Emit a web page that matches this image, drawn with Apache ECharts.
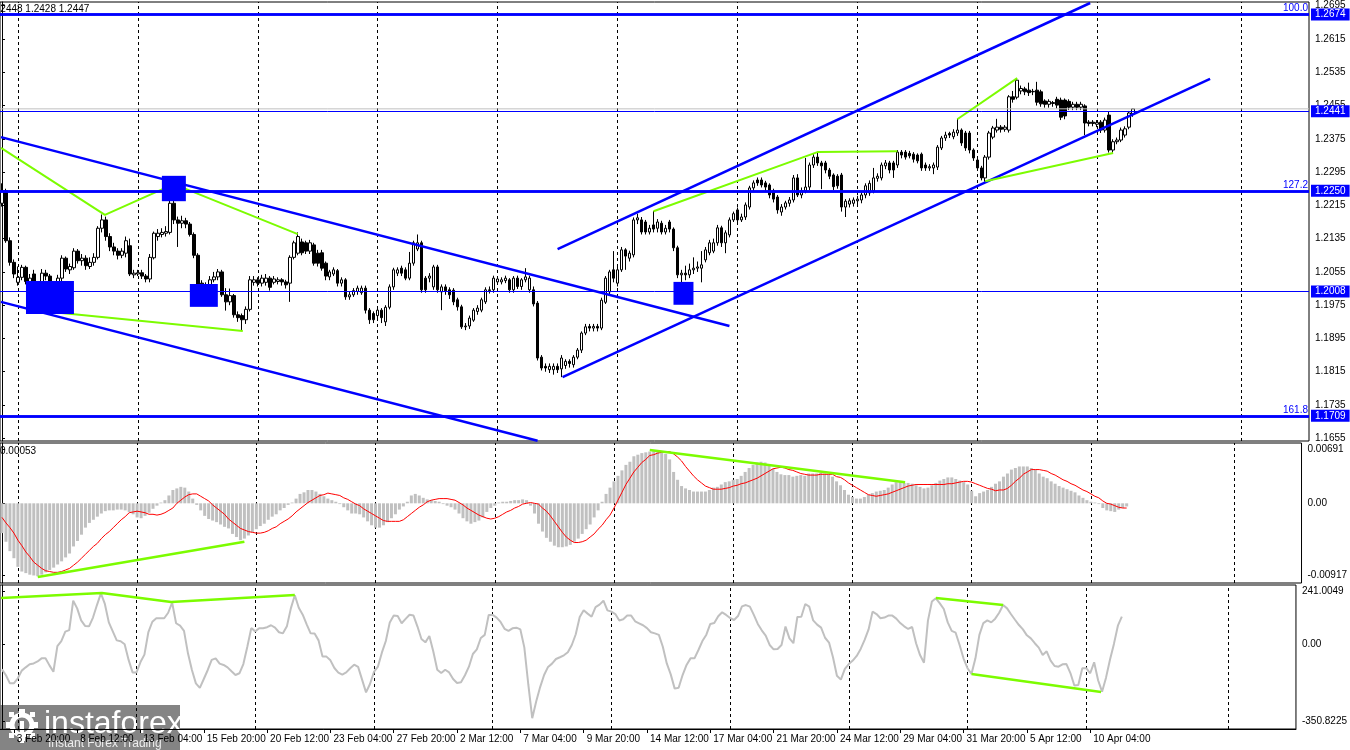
<!DOCTYPE html>
<html><head><meta charset="utf-8">
<script src="https://cdn.jsdelivr.net/npm/echarts@6/dist/echarts.min.js"></script>
<style>html,body{margin:0;padding:0;background:#fff}#c{width:1350px;height:750px}</style>
</head><body><div id="c"></div>
<script>
// ---- DATA ----
// candles: [open, close, low, high], H4 bars, index 0 = 3 Feb 08:00
const ohlc = [
[1.2220,1.2250,1.2212,1.2268],[1.2250,1.2130,1.2125,1.2255],[1.2130,1.2078,1.2070,1.2138],[1.2078,1.2050,1.2040,1.2085],[1.2030,1.2042,1.2022,1.2068],
[1.2042,1.2066,1.2035,1.2072],[1.2066,1.2032,1.2025,1.2070],[1.2032,1.2040,1.2020,1.2050],[1.2050,1.2008,1.2000,1.2060],[1.2008,1.2012,1.2000,1.2030],
[1.2015,1.2052,1.2010,1.2062],[1.2052,1.2045,1.2035,1.2060],[1.2045,1.2008,1.2000,1.2050],[1.2008,1.1976,1.1960,1.2015],[1.1976,1.2040,1.1962,1.2048],
[1.2040,1.2088,1.2030,1.2095],[1.2088,1.2062,1.2055,1.2092],[1.2060,1.2068,1.2050,1.2075],[1.2065,1.2105,1.2060,1.2112],[1.2105,1.2082,1.2075,1.2110],
[1.2082,1.2088,1.2070,1.2098],[1.2088,1.2070,1.2060,1.2095],[1.2068,1.2078,1.2062,1.2090],[1.2078,1.2090,1.2070,1.2100],[1.2090,1.2160,1.2085,1.2165],
[1.2160,1.2180,1.2150,1.2193],[1.2180,1.2140,1.2130,1.2188],[1.2140,1.2115,1.2105,1.2148],[1.2115,1.2105,1.2095,1.2125],[1.2105,1.2095,1.2085,1.2112],
[1.2095,1.2105,1.2088,1.2112],[1.2100,1.2130,1.2090,1.2140],[1.2118,1.2050,1.2045,1.2135],[1.2048,1.2052,1.2040,1.2060],[1.2050,1.2053,1.2045,1.2060],
[1.2053,1.2045,1.2038,1.2060],[1.2045,1.2038,1.2030,1.2050],[1.2038,1.2090,1.2030,1.2098],[1.2089,1.2148,1.2085,1.2152],[1.2140,1.2148,1.2130,1.2158],
[1.2145,1.2150,1.2138,1.2160],[1.2148,1.2152,1.2140,1.2165],[1.2150,1.2220,1.2145,1.2262],[1.2220,1.2180,1.2170,1.2230],[1.2180,1.2172,1.2115,1.2188],
[1.2172,1.2178,1.2160,1.2190],[1.2178,1.2170,1.2160,1.2185],[1.2170,1.2145,1.2140,1.2175],[1.2145,1.2095,1.2088,1.2150],[1.2095,1.2012,1.2005,1.2100],
[1.2028,1.2000,1.1990,1.2035],[1.2000,1.2020,1.1995,1.2030],[1.2020,1.2036,1.2012,1.2045],[1.2036,1.2043,1.2030,1.2055],[1.2043,1.2055,1.2035,1.2062],
[1.2055,1.2000,1.1995,1.2060],[1.2000,1.1983,1.1962,1.2016],[1.1983,1.1998,1.1975,1.2015],[1.1998,1.1952,1.1945,1.2002],[1.1952,1.1945,1.1935,1.1960],
[1.1950,1.1940,1.1913,1.1955],[1.1940,1.1965,1.1930,1.1972],[1.1965,1.2036,1.1960,1.2045],[1.2030,1.2036,1.2022,1.2045],[1.2036,1.2028,1.2020,1.2042],
[1.2028,1.2040,1.2020,1.2048],[1.2030,1.2040,1.2022,1.2050],[1.2040,1.2018,1.2010,1.2045],[1.2030,1.2038,1.2025,1.2045],[1.2032,1.2036,1.2025,1.2042],
[1.2036,1.2031,1.2022,1.2040],[1.2031,1.2024,1.2015,1.2036],[1.2028,1.2090,1.1983,1.2095],[1.2090,1.2125,1.2085,1.2130],[1.2100,1.2140,1.2095,1.2150],
[1.2127,1.2101,1.2095,1.2135],[1.2125,1.2105,1.2098,1.2130],[1.2105,1.2125,1.2098,1.2132],[1.2120,1.2076,1.2070,1.2125],[1.2100,1.2076,1.2068,1.2108],
[1.2101,1.2064,1.2058,1.2108],[1.2076,1.2045,1.2035,1.2080],[1.2043,1.2055,1.2035,1.2060],[1.2050,1.2060,1.2045,1.2066],[1.2058,1.2028,1.2020,1.2062],
[1.2028,1.2036,1.2020,1.2042],[1.2036,1.1995,1.1988,1.2040],[1.1995,1.2000,1.1988,1.2008],[1.2000,1.2010,1.1995,1.2016],[1.2008,1.2016,1.2000,1.2022],
[1.2005,1.2016,1.2000,1.2022],[1.2016,1.1963,1.1955,1.2022],[1.1963,1.1940,1.1930,1.1968],[1.1955,1.1940,1.1932,1.1960],[1.1950,1.1963,1.1940,1.1968],
[1.1963,1.1945,1.1932,1.1968],[1.1935,1.1970,1.1925,1.1975],[1.1970,1.2019,1.1965,1.2025],[1.2019,1.2060,1.2012,1.2065],[1.2052,1.2060,1.2045,1.2066],
[1.2064,1.2052,1.2045,1.2070],[1.2060,1.2040,1.2035,1.2066],[1.2040,1.2076,1.2035,1.2103],[1.2076,1.2125,1.2070,1.2130],[1.2110,1.2125,1.2105,1.2145],
[1.2125,1.2012,1.2005,1.2130],[1.2040,1.2012,1.2005,1.2045],[1.2040,1.2045,1.2030,1.2052],[1.2019,1.2067,1.2012,1.2072],[1.2067,1.2012,1.2005,1.2072],
[1.2007,1.2019,1.1963,1.2025],[1.2019,1.2010,1.2000,1.2025],[1.2012,1.2000,1.1990,1.2018],[1.2011,1.1983,1.1975,1.2016],[1.1988,1.1971,1.1962,1.1993],
[1.1971,1.1923,1.1918,1.1976],[1.1923,1.1925,1.1915,1.1932],[1.1925,1.1944,1.1918,1.1950],[1.1939,1.1963,1.1935,1.1968],[1.1960,1.1968,1.1952,1.1975],
[1.1963,1.1988,1.1958,1.1993],[1.1983,1.2012,1.1978,1.2018],[1.2010,1.2012,1.2003,1.2020],[1.2012,1.2040,1.2005,1.2046],[1.2031,1.2038,1.2025,1.2045],
[1.2031,1.2036,1.2025,1.2042],[1.2034,1.2040,1.2028,1.2046],[1.2036,1.2012,1.2005,1.2040],[1.2012,1.2040,1.2005,1.2045],[1.2040,1.2020,1.2014,1.2046],
[1.2020,1.2036,1.2012,1.2040],[1.2036,1.2043,1.2030,1.2064],[1.2012,1.2040,1.2005,1.2046],[1.2012,1.1978,1.1972,1.2020],[1.1980,1.1848,1.1842,1.1985],
[1.1850,1.1824,1.1818,1.1855],[1.1828,1.1824,1.1815,1.1835],[1.1820,1.1828,1.1812,1.1835],[1.1820,1.1828,1.1808,1.1835],[1.1828,1.1820,1.1812,1.1835],
[1.1822,1.1848,1.1802,1.1855],[1.1830,1.1840,1.1822,1.1845],[1.1840,1.1835,1.1825,1.1845],[1.1832,1.1850,1.1825,1.1855],[1.1850,1.1867,1.1845,1.1872],
[1.1867,1.1908,1.1860,1.1912],[1.1908,1.1923,1.1903,1.1930],[1.1924,1.1920,1.1912,1.1930],[1.1920,1.1924,1.1912,1.1930],[1.1924,1.1920,1.1912,1.1930],
[1.1920,1.1987,1.1915,1.1993],[1.1982,1.2040,1.1978,1.2045],[1.2007,1.2055,1.2000,1.2060],[1.2060,1.2040,1.2030,1.2105],[1.2028,1.2060,1.2020,1.2068],
[1.2060,1.2108,1.2055,1.2115],[1.2108,1.2093,1.2060,1.2112],[1.2088,1.2100,1.2080,1.2106],[1.2096,1.2180,1.2090,1.2186],[1.2180,1.2185,1.2170,1.2195],
[1.2180,1.2151,1.2145,1.2187],[1.2175,1.2151,1.2145,1.2180],[1.2151,1.2160,1.2145,1.2168],[1.2168,1.2158,1.2150,1.2201],[1.2160,1.2175,1.2150,1.2182],
[1.2172,1.2151,1.2145,1.2178],[1.2151,1.2160,1.2145,1.2168],[1.2175,1.2158,1.2150,1.2180],[1.2158,1.2113,1.2105,1.2162],[1.2113,1.2048,1.2040,1.2118],
[1.2048,1.2052,1.2015,1.2060],[1.2052,1.2048,1.2035,1.2070],[1.2048,1.2060,1.2040,1.2075],[1.2060,1.2064,1.2050,1.2090],[1.2064,1.2067,1.2055,1.2080],
[1.2064,1.2072,1.2030,1.2105],[1.2084,1.2108,1.2078,1.2115],[1.2101,1.2125,1.2095,1.2132],[1.2105,1.2125,1.2100,1.2135],[1.2125,1.2161,1.2118,1.2168],
[1.2161,1.2125,1.2115,1.2166],[1.2125,1.2149,1.2100,1.2155],[1.2144,1.2180,1.2138,1.2186],[1.2180,1.2195,1.2175,1.2200],[1.2204,1.2180,1.2172,1.2210],
[1.2180,1.2187,1.2175,1.2195],[1.2187,1.2216,1.2180,1.2222],[1.2211,1.2257,1.2205,1.2262],[1.2257,1.2269,1.2250,1.2275],[1.2276,1.2269,1.2262,1.2282],
[1.2276,1.2264,1.2258,1.2282],[1.2269,1.2259,1.2250,1.2274],[1.2264,1.2240,1.2232,1.2268],[1.2250,1.2230,1.2222,1.2255],[1.2235,1.2204,1.2195,1.2240],
[1.2199,1.2211,1.2190,1.2218],[1.2211,1.2221,1.2205,1.2226],[1.2220,1.2228,1.2212,1.2235],[1.2228,1.2281,1.2222,1.2288],[1.2281,1.2240,1.2235,1.2290],
[1.2240,1.2250,1.2232,1.2258],[1.2250,1.2259,1.2244,1.2329],[1.2259,1.2312,1.2252,1.2318],[1.2312,1.2331,1.2305,1.2338],[1.2331,1.2317,1.2310,1.2343],
[1.2317,1.2310,1.2254,1.2322],[1.2317,1.2300,1.2292,1.2322],[1.2300,1.2285,1.2278,1.2305],[1.2288,1.2260,1.2252,1.2292],[1.2285,1.2262,1.2255,1.2290],
[1.2288,1.2211,1.2200,1.2293],[1.2211,1.2225,1.2187,1.2230],[1.2218,1.2226,1.2210,1.2232],[1.2220,1.2228,1.2212,1.2234],[1.2226,1.2230,1.2218,1.2238],
[1.2228,1.2240,1.2220,1.2246],[1.2240,1.2262,1.2232,1.2268],[1.2245,1.2268,1.2238,1.2275],[1.2250,1.2281,1.2244,1.2305],[1.2280,1.2285,1.2272,1.2292],
[1.2281,1.2312,1.2275,1.2318],[1.2310,1.2317,1.2302,1.2324],[1.2317,1.2300,1.2292,1.2322],[1.2317,1.2300,1.2281,1.2322],[1.2312,1.2343,1.2305,1.2348],
[1.2343,1.2336,1.2328,1.2348],[1.2343,1.2331,1.2325,1.2348],[1.2340,1.2334,1.2328,1.2346],[1.2338,1.2326,1.2318,1.2343],[1.2336,1.2322,1.2316,1.2340],
[1.2338,1.2305,1.2298,1.2342],[1.2312,1.2305,1.2298,1.2318],[1.2305,1.2308,1.2298,1.2314],[1.2305,1.2312,1.2290,1.2318],[1.2307,1.2355,1.2300,1.2360],
[1.2353,1.2377,1.2348,1.2382],[1.2377,1.2384,1.2370,1.2392],[1.2388,1.2384,1.2377,1.2392],[1.2380,1.2391,1.2374,1.2398],[1.2389,1.2396,1.2382,1.2423],
[1.2396,1.2365,1.2358,1.2400],[1.2389,1.2353,1.2346,1.2394],[1.2389,1.2348,1.2340,1.2394],[1.2348,1.2329,1.2322,1.2352],[1.2324,1.2305,1.2298,1.2328],
[1.2305,1.2281,1.2275,1.2310],[1.2281,1.2331,1.2272,1.2336],[1.2331,1.2389,1.2325,1.2394],[1.2379,1.2401,1.2374,1.2406],[1.2396,1.2403,1.2390,1.2423],
[1.2403,1.2398,1.2390,1.2408],[1.2398,1.2403,1.2392,1.2408],[1.2396,1.2476,1.2390,1.2480],[1.2476,1.2470,1.2462,1.2490],[1.2475,1.2516,1.2470,1.2521],
[1.2490,1.2496,1.2482,1.2503],[1.2495,1.2488,1.2480,1.2500],[1.2492,1.2486,1.2478,1.2510],[1.2489,1.2488,1.2480,1.2495],[1.2492,1.2463,1.2455,1.2512],
[1.2488,1.2459,1.2452,1.2493],[1.2466,1.2458,1.2450,1.2470],[1.2458,1.2465,1.2450,1.2470],[1.2462,1.2460,1.2452,1.2466],[1.2470,1.2456,1.2448,1.2476],
[1.2468,1.2427,1.2420,1.2474],[1.2468,1.2430,1.2422,1.2472],[1.2465,1.2451,1.2444,1.2470],[1.2451,1.2458,1.2444,1.2464],[1.2458,1.2451,1.2444,1.2464],
[1.2451,1.2458,1.2444,1.2464],[1.2454,1.2413,1.2384,1.2458],[1.2415,1.2412,1.2405,1.2420],[1.2415,1.2412,1.2405,1.2420],[1.2410,1.2414,1.2403,1.2420],
[1.2415,1.2396,1.2389,1.2420],[1.2396,1.2420,1.2390,1.2426],[1.2432,1.2348,1.2342,1.2440],[1.2348,1.2368,1.2341,1.2374],[1.2368,1.2372,1.2362,1.2378],
[1.2372,1.2396,1.2367,1.2402],[1.2384,1.2399,1.2378,1.2405],[1.2403,1.2437,1.2398,1.2442],[1.2435,1.2447,1.2428,1.2448]
];
const macdHist = [
-0.0038,-0.0049,-0.0061,-0.0070,-0.0081,-0.0087,-0.0089,-0.0091,-0.0092,-0.0093,
-0.0091,-0.0088,-0.0085,-0.0082,-0.0078,-0.0074,-0.0069,-0.0064,-0.0055,-0.0048,
-0.0040,-0.0031,-0.0025,-0.0021,-0.0017,-0.0013,-0.0010,-0.0009,-0.0009,-0.0008,
-0.0008,-0.0009,-0.0011,-0.0014,-0.0018,-0.0019,-0.0016,-0.0012,-0.0007,-0.0003,
0.0001,0.0004,0.0010,0.0017,0.0019,0.0021,0.0020,0.0015,0.0006,-0.0002,
-0.0009,-0.0016,-0.0020,-0.0022,-0.0024,-0.0027,-0.0030,-0.0032,-0.0039,-0.0043,
-0.0047,-0.0045,-0.0041,-0.0037,-0.0033,-0.0029,-0.0026,-0.0021,-0.0017,-0.0014,
-0.0009,-0.0006,-0.0002,0.0001,0.0006,0.0012,0.0014,0.0017,0.0017,0.0015,
0.0012,0.0009,0.0006,0.0004,0.0002,-0.0001,-0.0005,-0.0009,-0.0013,-0.0013,
-0.0014,-0.0018,-0.0023,-0.0028,-0.0031,-0.0031,-0.0028,-0.0024,-0.0019,-0.0014,
-0.0008,-0.0004,0.0002,0.0010,0.0012,0.0010,0.0007,0.0005,0.0004,0.0003,
0.0002,-0.0001,-0.0003,-0.0005,-0.0008,-0.0013,-0.0019,-0.0023,-0.0026,-0.0024,
-0.0022,-0.0018,-0.0011,-0.0006,-0.0003,0.0001,0.0002,0.0002,0.0003,0.0004,
0.0004,0.0005,0.0004,-0.0003,-0.0013,-0.0026,-0.0036,-0.0044,-0.0049,-0.0054,
-0.0056,-0.0056,-0.0055,-0.0053,-0.0049,-0.0045,-0.0039,-0.0033,-0.0027,-0.0018,
-0.0009,0.0002,0.0012,0.0020,0.0028,0.0035,0.0042,0.0049,0.0053,0.0060,
0.0062,0.0064,0.0065,0.0066,0.0067,0.0066,0.0065,0.0063,0.0056,0.0040,
0.0030,0.0022,0.0019,0.0017,0.0015,0.0015,0.0015,0.0015,0.0017,0.0020,
0.0021,0.0024,0.0027,0.0028,0.0030,0.0031,0.0035,0.0040,0.0045,0.0049,
0.0052,0.0053,0.0052,0.0048,0.0044,0.0040,0.0037,0.0036,0.0036,0.0034,
0.0035,0.0036,0.0035,0.0038,0.0038,0.0038,0.0039,0.0038,0.0037,0.0034,
0.0028,0.0023,0.0017,0.0011,0.0008,0.0006,0.0006,0.0008,0.0011,0.0013,
0.0015,0.0016,0.0017,0.0020,0.0024,0.0027,0.0027,0.0026,0.0026,0.0025,
0.0023,0.0021,0.0019,0.0020,0.0023,0.0026,0.0029,0.0031,0.0033,0.0033,
0.0031,0.0029,0.0027,0.0024,0.0016,0.0009,0.0013,0.0015,0.0017,0.0021,
0.0025,0.0028,0.0034,0.0038,0.0043,0.0045,0.0047,0.0047,0.0047,0.0045,
0.0043,0.0038,0.0034,0.0032,0.0028,0.0025,0.0022,0.0020,0.0018,0.0016,
0.0014,0.0010,0.0007,0.0004,0.0002,0.0001,-0.0001,-0.0006,-0.0009,-0.0010,
-0.0011,-0.0008,-0.0006,-0.0004
];
const macdSignal = [
-0.0018,-0.0025,-0.0031,-0.0038,-0.0047,-0.0054,-0.0062,-0.0068,-0.0075,-0.0079,
-0.0083,-0.0086,-0.0087,-0.0088,-0.0088,-0.0087,-0.0085,-0.0083,-0.0079,-0.0075,
-0.0070,-0.0065,-0.0060,-0.0055,-0.0051,-0.0045,-0.0040,-0.0036,-0.0031,-0.0026,
-0.0021,-0.0017,-0.0012,-0.0011,-0.0010,-0.0011,-0.0012,-0.0014,-0.0014,-0.0015,
-0.0014,-0.0012,-0.0009,-0.0006,0.0000,0.0004,0.0008,0.0011,0.0012,0.0012,
0.0009,0.0006,0.0003,-0.0002,-0.0006,-0.0010,-0.0014,-0.0020,-0.0024,-0.0028,
-0.0032,-0.0034,-0.0036,-0.0037,-0.0038,-0.0038,-0.0037,-0.0035,-0.0032,-0.0030,
-0.0026,-0.0023,-0.0020,-0.0016,-0.0011,-0.0007,-0.0003,0.0001,0.0004,0.0007,
0.0010,0.0011,0.0013,0.0012,0.0011,0.0010,0.0007,0.0005,0.0002,-0.0001,
-0.0003,-0.0007,-0.0010,-0.0013,-0.0016,-0.0019,-0.0022,-0.0023,-0.0023,-0.0023,
-0.0023,-0.0021,-0.0017,-0.0013,-0.0009,-0.0005,-0.0002,0.0002,0.0004,0.0005,
0.0006,0.0006,0.0006,0.0005,0.0004,0.0001,-0.0002,-0.0006,-0.0009,-0.0012,
-0.0015,-0.0017,-0.0019,-0.0020,-0.0019,-0.0017,-0.0014,-0.0011,-0.0009,-0.0006,
-0.0004,-0.0001,0.0000,0.0001,0.0000,-0.0001,-0.0006,-0.0010,-0.0016,-0.0023,
-0.0030,-0.0037,-0.0043,-0.0047,-0.0050,-0.0050,-0.0049,-0.0047,-0.0043,-0.0039,
-0.0033,-0.0028,-0.0021,-0.0015,-0.0006,0.0004,0.0014,0.0024,0.0032,0.0040,
0.0046,0.0052,0.0056,0.0061,0.0062,0.0064,0.0065,0.0066,0.0066,0.0063,
0.0059,0.0054,0.0047,0.0041,0.0035,0.0030,0.0026,0.0022,0.0020,0.0018,
0.0018,0.0018,0.0019,0.0020,0.0022,0.0023,0.0025,0.0026,0.0028,0.0030,
0.0032,0.0035,0.0038,0.0041,0.0044,0.0045,0.0046,0.0045,0.0043,0.0042,
0.0040,0.0038,0.0037,0.0036,0.0036,0.0036,0.0037,0.0037,0.0037,0.0037,
0.0034,0.0033,0.0030,0.0026,0.0023,0.0020,0.0017,0.0014,0.0011,0.0010,
0.0009,0.0010,0.0011,0.0012,0.0014,0.0016,0.0018,0.0020,0.0022,0.0023,
0.0024,0.0024,0.0024,0.0024,0.0024,0.0024,0.0024,0.0024,0.0025,0.0025,
0.0026,0.0027,0.0028,0.0028,0.0027,0.0025,0.0023,0.0021,0.0019,0.0018,
0.0016,0.0017,0.0017,0.0019,0.0023,0.0028,0.0032,0.0037,0.0040,0.0043,
0.0043,0.0043,0.0042,0.0041,0.0038,0.0036,0.0033,0.0030,0.0028,0.0025,
0.0023,0.0020,0.0017,0.0015,0.0012,0.0009,0.0007,0.0003,0.0000,-0.0001,
-0.0003,-0.0005,-0.0006,-0.0006
];
const cci = [
-114,-141,-178,-178,-155,-120,-105,-91,-87,-78,
-64,-64,-96,-125,-8,15,58,65,199,164,
109,84,82,122,179,232,184,100,59,18,
14,0,-71,-128,-128,-81,-47,56,103,119,
119,119,144,190,96,85,61,-41,-117,-178,
-199,-158,-117,-71,-64,-88,-94,-105,-123,-140,
-132,-90,-11,74,59,73,73,78,87,76,
55,50,82,164,224,167,135,91,50,49,
18,-56,-56,-73,-108,-129,-138,-128,-109,-93,
-103,-161,-219,-181,-126,-102,-38,15,100,131,
129,96,116,135,131,81,24,9,38,-33,
-116,-131,-116,-128,-158,-176,-173,-141,-102,-44,
-23,29,43,134,134,122,102,71,61,73,
76,68,-14,-182,-337,-261,-195,-140,-103,-88,
-67,-59,-50,-36,-3,46,125,155,140,126,
170,181,199,155,149,138,109,114,131,131,
105,96,87,74,55,50,43,-11,-87,-137,
-202,-198,-140,-94,-64,-64,-26,15,44,93,
97,128,146,134,120,111,129,173,179,172,
134,93,64,40,-3,-23,-21,-3,81,27,
5,125,126,184,172,109,90,76,30,8,
-59,-143,-161,-112,-90,-74,-53,-21,20,68,
149,138,119,122,131,131,117,97,82,70,
79,5,-49,-84,108,195,210,187,161,100,
61,53,-3,-65,-109,-135,-64,43,97,109,
100,117,144,179,164,137,112,88,68,41,
27,5,-15,-49,-32,-74,-99,-102,-91,-90,
-131,-188,-185,-109,-109,-132,-82,-164,-216,-152,
-70,2,85,126
];
// time axis tick labels (bar index -> text)
const tickIdx = [3,19,35,51,67,83,99,115,131,147,163,179,195,211,227,243,259,275];
const tickLabels = ['3 Feb 20:00','8 Feb 12:00','13 Feb 04:00','15 Feb 20:00','20 Feb 12:00','23 Feb 04:00','27 Feb 20:00','2 Mar 12:00','7 Mar 04:00','9 Mar 20:00','14 Mar 12:00','17 Mar 04:00','21 Mar 20:00','24 Mar 12:00','29 Mar 04:00','31 Mar 20:00','5 Apr 12:00','10 Apr 04:00'];
const weekGridIdx = [4,34,64,94,124,154,184,214,244,274,310];
const priceTicks = [1.2695,1.2615,1.2535,1.2455,1.2375,1.2295,1.2215,1.2135,1.2055,1.1975,1.1895,1.1815,1.1735,1.1655];
const macdTicks = [0.00691,0,-0.00917];
const macdTickLabels = ['0.00691','0.00','-0.00917'];
const cciTicks = [241.0049,0,-350.8225];
const cciTickLabels = ['241.0049','0.00','-350.8225'];
// horizontal levels
const majorLevels = [1.2674,1.2250,1.1709];
const minorLevels = [1.2441,1.2008];
const fibLevels = [[1.2674,'100.0'],[1.2250,'127.2'],[1.1709,'161.8']];
const bidPrice = 1.2447;
// trend lines [barIndex, price]
const descUpper = [[-0.25,1.2379],[182,1.1925]];
const descLower = [[-0.25,1.1983],[134,1.1649]];
const ascLower = [[140.25,1.1802],[302.25,1.2519]];
const ascUpper = [[139,1.2110],[272.25,1.27015]];
const greenPrice = [
  [[-0.25,1.2353],[25.75,1.2192],[43,1.2266],[74,1.2146]],
  [[13,1.1958],[60.25,1.1913]],
  [[163,1.2201],[204,1.2343],[224,1.2345]],
  [[239,1.2422],[254,1.2521]],
  [[246,1.2273],[278,1.2341]]
];
const greenMacd = [
  [[9,-0.0094],[61,-0.0049]],
  [[163,0.0068],[227.25,0.0027]]
];
const greenCci = [
  [[-0.25,211],[25.25,234],[42.75,193],[74,225]],
  [[236,211],[253,179]],
  [[245,-135],[277.75,-217]]
];
// blue boxes [i1, p1, i2, p2]
const boxes = [[6,1.2033,18,1.1954],[40,1.2286,46,1.2225],[47,1.2026,54,1.1971],[168,1.2031,173,1.1976]];

// ---- CHART ----
const FONT = 'Liberation Sans';
const BLUE = '#0000ff', GREEN = '#7cfc00';
const XMIN = -0.5, XMAX = 327;
const chart = echarts.init(document.getElementById('c'));

function vgrid(){
  return {silent:true, symbol:['none','none'], z:1, precision:4, label:{show:false},
    lineStyle:{color:'#000', type:[3,3], width:1},
    emphasis:{disabled:true},
    data: weekGridIdx.map(v=>({xAxis:v}))};
}
function lineSeries(data, color, width, xi, yi){
  return {type:'line', data, xAxisIndex:xi, yAxisIndex:yi, showSymbol:false, symbol:'none',
    lineStyle:{color, width}, silent:true, z:4, animation:false};
}
const xBase = {type:'value', min:XMIN, max:XMAX, show:false};
const yBase = {type:'value', position:'right', splitLine:{show:false},
  axisLine:{show:true, lineStyle:{color:'#000'}},
  axisTick:{show:true, length:3, lineStyle:{color:'#000'}},
  axisLabel:{color:'#000', fontFamily:FONT, fontSize:10, margin:6}};

const levelMarks = [];
majorLevels.forEach(p=>levelMarks.push({yAxis:p, lineStyle:{width:2.5}, label:{formatter:p.toFixed(4)}}));
minorLevels.forEach(p=>levelMarks.push({yAxis:p, lineStyle:{width:1}, label:{formatter:p.toFixed(4)}}));
fibLevels.forEach(([p,t])=>levelMarks.push({yAxis:p, lineStyle:{width:2.5},
  label:{position:'insideEndTop', formatter:t, backgroundColor:'transparent', color:BLUE, padding:0, distance:1}}));

const series = [
  {type:'candlestick', xAxisIndex:0, yAxisIndex:0, barWidth:3,
    data: ohlc.map((d,i)=>[i,d[0],d[1],d[2],d[3]]),
    itemStyle:{color:'#fff', color0:'#000', borderColor:'#000', borderColor0:'#000', borderWidth:1},
    markLine: vgrid(), z:2, silent:true},
  {type:'line', xAxisIndex:0, yAxisIndex:0, data:[[XMIN,bidPrice],[XMAX,bidPrice]], showSymbol:false, symbol:'none',
    lineStyle:{color:'#c0c0c0', width:1}, z:3, silent:true,
    markLine:{silent:true, symbol:['none','none'], z:6, precision:5,
      lineStyle:{color:BLUE, type:'solid'},
      label:{show:true, position:'end', distance:2, color:'#fff', backgroundColor:BLUE,
        padding:[1,4,1,4], fontFamily:FONT, fontSize:10},
      emphasis:{disabled:true},
      data: levelMarks},
    markArea:{silent:true, z:7, itemStyle:{color:BLUE, opacity:1},
      data: boxes.map(b=>[{coord:[b[0],b[1]]},{coord:[b[2],b[3]]}])}},
  lineSeries(descUpper, BLUE, 2.5, 0, 0),
  lineSeries(descLower, BLUE, 2.5, 0, 0),
  lineSeries(ascLower, BLUE, 2.5, 0, 0),
  lineSeries(ascUpper, BLUE, 2.5, 0, 0),
  ...greenPrice.map(g=>lineSeries(g, GREEN, 2, 0, 0)),
  {type:'bar', xAxisIndex:1, yAxisIndex:1, barWidth:3, data: macdHist.map((v,i)=>[i,v]),
    itemStyle:{color:'#c0c0c0'}, markLine: vgrid(), z:2, silent:true},
  lineSeries(macdSignal.map((v,i)=>[i,v]), '#ff0000', 1, 1, 1),
  ...greenMacd.map(g=>lineSeries(g, GREEN, 2.5, 1, 1)),
  {type:'line', xAxisIndex:2, yAxisIndex:2, data: cci.map((v,i)=>[i,v]), showSymbol:false, symbol:'none',
    lineStyle:{color:'#c0c0c0', width:2}, markLine: vgrid(), z:3, silent:true},
  ...greenCci.map(g=>lineSeries(g, GREEN, 2.5, 2, 2))
];

const option = {
  animation:false,
  backgroundColor:'#fff',
  grid:[
    {left:-1, right:41, top:2, height:439, show:true, borderColor:'#000', borderWidth:1, backgroundColor:'transparent'},
    {left:-1, right:41, top:443, height:140, show:true, borderColor:'#000', borderWidth:1, backgroundColor:'transparent'},
    {left:-1, right:41, top:585, height:144, show:true, borderColor:'#000', borderWidth:1, backgroundColor:'transparent'}
  ],
  xAxis:[
    Object.assign({}, xBase, {gridIndex:0}),
    Object.assign({}, xBase, {gridIndex:1}),
    {type:'value', gridIndex:2, min:XMIN, max:XMAX, splitLine:{show:false},
      axisLine:{show:true, onZero:false, lineStyle:{color:'#000'}},
      axisTick:{show:true, length:4, customValues:tickIdx, lineStyle:{color:'#000'}},
      axisLabel:{show:true, customValues:tickIdx, align:'left', padding:[0,0,0,3], margin:5,
        color:'#000', fontFamily:FONT, fontSize:10,
        formatter:(v)=>{const k=tickIdx.indexOf(Math.round(v)); return k>=0?tickLabels[k]:'';}}}
  ],
  yAxis:[
    Object.assign({}, yBase, {gridIndex:0, min:1.16485, max:1.27039,
      axisTick:Object.assign({}, yBase.axisTick, {customValues:priceTicks}),
      axisLabel:Object.assign({}, yBase.axisLabel, {customValues:priceTicks, formatter:(v)=>v.toFixed(4)})}),
    Object.assign({}, yBase, {gridIndex:1, min:-0.01016, max:0.00769,
      axisTick:Object.assign({}, yBase.axisTick, {customValues:macdTicks}),
      axisLabel:Object.assign({}, yBase.axisLabel, {customValues:macdTicks,
        formatter:(v)=>{let k=macdTicks.findIndex(t=>Math.abs(t-v)<1e-7); return k>=0?macdTickLabels[k]:'';}})}),
    Object.assign({}, yBase, {gridIndex:2, min:-386.1, max:270.5,
      axisTick:Object.assign({}, yBase.axisTick, {customValues:cciTicks}),
      axisLabel:Object.assign({}, yBase.axisLabel, {customValues:cciTicks,
        formatter:(v)=>{let k=cciTicks.findIndex(t=>Math.abs(t-v)<1e-3); return k>=0?cciTickLabels[k]:'';}})})
  ],
  series,
  graphic:[
    {type:'text', left:-8, top:4, z:50, style:{text:'1.2448 1.2428 1.2447', fill:'#000', font:'10px "Liberation Sans"'}},
    {type:'text', left:0, top:446, z:50, style:{text:'0.00053', fill:'#000', font:'10px "Liberation Sans"'}},
    {type:'group', left:0, top:705, z:60, children:[
      {type:'rect', shape:{x:0, y:0, width:180, height:45}, style:{fill:'rgba(105,105,105,0.82)'}},
      {type:'circle', shape:{cx:22, cy:20, r:10}, style:{fill:'none', stroke:'#fff', lineWidth:5}},
      {type:'rect', shape:{x:19, y:4, width:6, height:5}, style:{fill:'#fff'}},
      {type:'rect', shape:{x:19, y:31, width:6, height:5}, style:{fill:'#fff'}},
      {type:'rect', shape:{x:6, y:17, width:5, height:6}, style:{fill:'#fff'}},
      {type:'rect', shape:{x:33, y:17, width:5, height:6}, style:{fill:'#fff'}},
      {type:'rect', shape:{x:9, y:7, width:5, height:5}, style:{fill:'#fff'}},
      {type:'rect', shape:{x:30, y:7, width:5, height:5}, style:{fill:'#fff'}},
      {type:'rect', shape:{x:9, y:28, width:5, height:5}, style:{fill:'#fff'}},
      {type:'rect', shape:{x:30, y:28, width:5, height:5}, style:{fill:'#fff'}},
      {type:'rect', shape:{x:20, y:16, width:4, height:22}, style:{fill:'#fff'}},
      {type:'text', x:44, y:3, style:{text:'instaforex', fill:'#fff', font:'32px "Liberation Sans"'}},
      {type:'text', x:48, y:33, style:{text:'Instant Forex Trading', fill:'#eee', font:'12px "Liberation Sans"'}}
    ]}
  ]
};
chart.setOption(option);
</script>
</body></html>
